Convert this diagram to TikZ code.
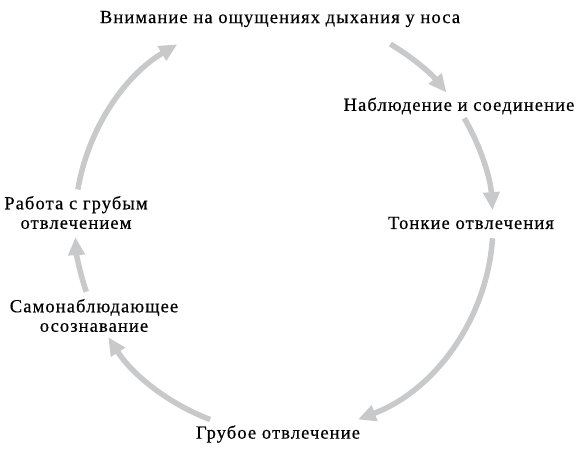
\documentclass[tikz,border=0pt]{standalone}
\usepackage{fontspec}
\setmainfont{Liberation Serif}[LetterSpace=6,FakeBold=0.5]
\usetikzlibrary{arrows.meta}
\definecolor{arrgray}{HTML}{C8C9CB}
\tikzset{
  lbl/.style={font=\rmfamily\fontsize{18.5}{19.5}\selectfont, text=black, inner sep=0pt, align=center},
  cyc/.style={draw=arrgray, line width=5.5pt, -{Triangle[length=18pt,width=16pt]}}
}
\begin{document}
\begin{tikzpicture}[x=1pt,y=1pt]
\useasboundingbox (0,0) rectangle (587,451);
\coordinate (c) at (284,227);
\node[lbl] (n1) at (280,432) {Внимание на ощущениях дыхания у носа};
\node[lbl] (n2) at (459,345) {Наблюдение и соединение};
\node[lbl] (n3) at (471,228) {Тонкие отвлечения};
\node[lbl] (n4) at (278,17) {Грубое отвлечение};
\node[lbl] (n5) at (94,135.5) {Самонаблюдающее\\осознавание};
\node[lbl] (n6) at (76,238.5) {Работа с грубым\\отвлечением};
\draw[cyc] ([shift={(170.5:209)}]c) arc[start angle=170.5, end angle=120.7, radius=209];
\draw[cyc] ([shift={(59.4:209)}]c) arc[start angle=59.4, end angle=39, radius=209];
\draw[cyc] ([shift={(30.4:209)}]c) arc[start angle=30.4, end angle=3.8, radius=209];
\draw[cyc] ([shift={(-3.9:209)}]c) arc[start angle=-3.9, end angle=-69.3, radius=209];
\draw[cyc] ([shift={(-110.7:209)}]c) arc[start angle=-110.7, end angle=-147.2, radius=209];
\draw[cyc] ([shift={(-161.1:209)}]c) arc[start angle=-161.1, end angle=-176.4, radius=209];
\end{tikzpicture}
\end{document}
